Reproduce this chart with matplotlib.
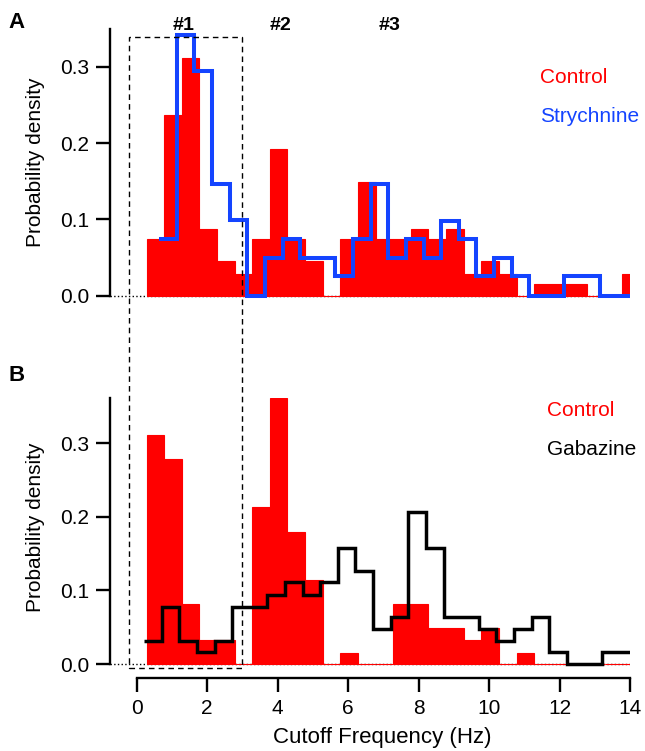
import numpy as np
import matplotlib
matplotlib.use("Agg")
import matplotlib.pyplot as plt
from matplotlib.patches import Rectangle

plt.rcParams['font.family'] = ['Liberation Sans', 'DejaVu Sans']

# histogram data (probability density, 0.5 Hz bins)
bin_w = 0.5
red_start = 0.28     # first edge of the control histograms
blue_start = 0.64    # first edge of the strychnine trace
black_start = 0.21   # first edge of the gabazine trace

control_a = [0.074, 0.237, 0.312, 0.087, 0.045, 0.028, 0.074, 0.192, 0.074, 0.045,
             0.0, 0.074, 0.149, 0.074, 0.074, 0.087, 0.074, 0.087, 0.028, 0.045,
             0.028, 0.0, 0.015, 0.015, 0.015, 0.0, 0.0, 0.028]
strychnine = [0.074, 0.342, 0.294, 0.146, 0.099, 0.0, 0.049, 0.074, 0.049, 0.049,
              0.026, 0.074, 0.146, 0.049, 0.074, 0.049, 0.098, 0.074, 0.026, 0.049,
              0.026, 0.0, 0.0, 0.026, 0.026, 0.0, 0.0]
control_b = [0.311, 0.279, 0.081, 0.032, 0.032, 0.0, 0.213, 0.361, 0.180, 0.114,
             0.0, 0.015, 0.0, 0.0, 0.081, 0.081, 0.049, 0.049, 0.032, 0.049,
             0.0, 0.015, 0.0, 0.0, 0.0, 0.0, 0.0, 0.0]
gabazine = [0.031, 0.078, 0.031, 0.016, 0.031, 0.078, 0.078, 0.094, 0.111, 0.094,
            0.111, 0.158, 0.126, 0.047, 0.064, 0.206, 0.158, 0.064, 0.064, 0.048,
            0.031, 0.048, 0.064, 0.016, 0.0, 0.0, 0.016, 0.016]

yticks = [0.0, 0.1, 0.2, 0.3]
xticks = [0, 2, 4, 6, 8, 10, 12, 14]
peak_labels = ['#1', '#2', '#3']
peak_pos = [1.33, 4.09, 7.19]

RED = '#ff0000'
BLUE = '#1444ff'

W, H = 645, 751
fig = plt.figure(figsize=(W / 100, H / 100), dpi=100)

def px_axes(left, top, right, bottom):
    return fig.add_axes([left / W, 1 - bottom / H, (right - left) / W, (bottom - top) / H])

xlim = (-0.757, 14)
ax_a = px_axes(110, 29.4, 630, 303.3)
ax_b = px_axes(110, 397.6, 630, 678)
ax_a.set_ylim(-0.01, 0.349)
ax_b.set_ylim(-0.019, 0.362)

def edges(start, n):
    return start + bin_w * np.arange(n + 1)

for ax, ctrl, trace, start, col in [(ax_a, control_a, strychnine, blue_start, BLUE),
                                    (ax_b, control_b, gabazine, black_start, 'black')]:
    ax.set_xlim(*xlim)
    e = edges(red_start, len(ctrl))
    ax.plot([xlim[0], 14], [0, 0], ls=':', color='k', lw=1.0, zorder=0)
    ax.bar(e[:-1], ctrl, width=bin_w, align='edge', color=RED, edgecolor=RED,
           linewidth=0.8, zorder=1)
    ax.stairs(trace, edges(start, len(trace)), baseline=None, color=col,
              lw=2.9 if col == BLUE else 2.5, zorder=2)
    for s in ['top', 'right']:
        ax.spines[s].set_visible(False)
    ax.spines['left'].set_linewidth(1.7)
    ax.spines['left'].set_bounds(0, ax.get_ylim()[1])
    ax.set_yticks(yticks)
    ax.set_yticklabels(['%.1f' % v for v in yticks])
    ax.tick_params(axis='both', direction='out', length=10, width=1.7,
                   labelsize=15, pad=5)

ax_a.spines['bottom'].set_visible(False)
ax_a.set_xticks([])
ax_b.spines['bottom'].set_linewidth(1.7)
ax_b.spines['bottom'].set_bounds(0, 14)
ax_b.set_xticks(xticks)
ax_b.set_xticklabels([str(v) for v in xticks])

for lab, x in zip(peak_labels, peak_pos):
    ax_a.text(x, 0.348, lab, ha='center', va='baseline', fontsize=14,
              fontweight='bold', clip_on=False)

# legends as coloured text
fig.text(540 / W, 1 - 83.3 / H, 'Control', color=RED, fontsize=15, va='baseline')
fig.text(540 / W, 1 - 122 / H, 'Strychnine', color=BLUE, fontsize=15, va='baseline')
fig.text(547 / W, 1 - 416 / H, 'Control', color=RED, fontsize=15, va='baseline')
fig.text(547 / W, 1 - 455 / H, 'Gabazine', color='black', fontsize=15, va='baseline')

# labels
fig.text(8 / W, 1 - 28 / H, 'A', fontsize=16, fontweight='bold', va='baseline')
fig.text(9 / W, 1 - 381 / H, 'B', fontsize=16, fontweight='bold', va='baseline')
fig.text(36 / W, 1 - 162.5 / H, 'Probability density', rotation=90,
         ha='center', va='center', fontsize=15)
fig.text(36 / W, 1 - 527.5 / H, 'Probability density', rotation=90,
         ha='center', va='center', fontsize=15)
fig.text(382 / W, 1 - 738 / H, 'Cutoff Frequency (Hz)', ha='center',
         va='center', fontsize=16)

# dashed window around peak #1, spanning both panels
to_fig = fig.transFigure.inverted()
x0, y1 = to_fig.transform(ax_a.transData.transform((-0.21, 0.3387)))
x1, y0 = to_fig.transform(ax_b.transData.transform((3.0, -0.006)))
fig.patches.append(Rectangle((x0, y0), x1 - x0, y1 - y0, transform=fig.transFigure,
                             fill=False, ls=(0, (4, 3)), lw=1.0, color='black',
                             zorder=5))

fig.savefig('out.png', dpi=100)
